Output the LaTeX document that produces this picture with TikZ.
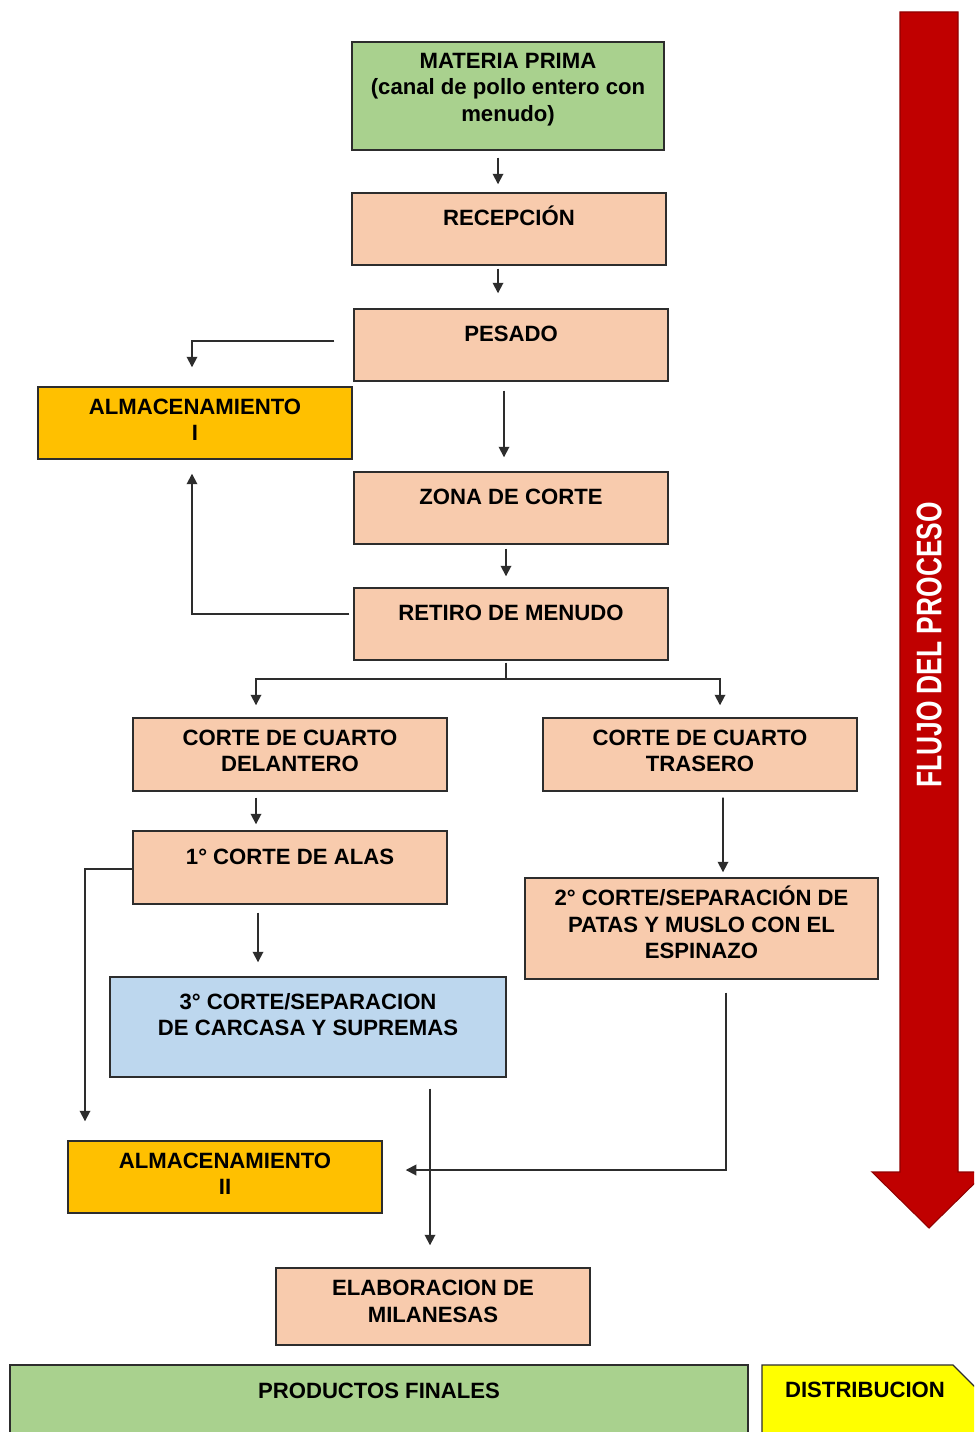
\documentclass[tikz,border=0pt]{standalone}
\usepackage{fontspec}
\setmainfont{Liberation Sans}
\usetikzlibrary{calc,positioning,arrows.meta}
\definecolor{mygreen}{RGB}{169,209,142}
\definecolor{mypeach}{RGB}{248,203,173}
\definecolor{mygold}{RGB}{255,192,0}
\definecolor{myblue}{RGB}{189,215,238}
\definecolor{myred}{RGB}{192,0,0}
\definecolor{myyellow}{RGB}{255,255,0}
\definecolor{myline}{RGB}{45,45,45}
\newcommand{\pxu}{0.02cm}
\tikzset{
  box/.style={draw=myline, line width=0.8pt, fill=mypeach, align=center, inner sep=0pt,
    font=\bfseries\fontsize{12.6}{15}\selectfont, minimum width=314*\pxu, minimum height=72*\pxu},
  oneline/.style={text height=9pt, text depth=12.5pt},
  twoline/.style={text depth=4pt},
  conn/.style={draw=myline, line width=1pt, -{Triangle[width=6pt,length=6pt]}},
  link/.style={draw=myline, line width=1pt},
}

\begin{document}
\begin{tikzpicture}[x=\pxu, y=-\pxu]
  \useasboundingbox (0,0) rectangle (974,1432);
  \clip (0,0) rectangle (974,1432);

  % Process boxes
  \node[box, fill=mygreen, minimum width=312*\pxu, minimum height=108*\pxu, text depth=10pt] (mat) at (508,96) {MATERIA PRIMA\\(canal de pollo entero con\\menudo)};
  \node[box, oneline] (rec) at (509,229) {RECEPCIÓN};
  \node[box, oneline] (pes) at (511,345) {PESADO};
  \node[box, twoline, fill=mygold] (almI) at (195,423) {ALMACENAMIENTO\\I};
  \node[box, oneline] (zon) at (511,508) {ZONA DE CORTE};
  \node[box, oneline] (ret) at (511,624) {RETIRO DE MENUDO};
  \node[box, twoline, minimum height=73*\pxu] (del) at (290,754.5) {CORTE DE CUARTO\\DELANTERO};
  \node[box, twoline, minimum height=73*\pxu] (tras) at (700,754.5) {CORTE DE CUARTO\\TRASERO};
  \node[box, oneline, minimum height=73*\pxu] (alas) at (290,867.5) {1° CORTE DE ALAS};
  \node[box, fill=myblue, minimum width=396*\pxu, minimum height=100*\pxu, text depth=14pt] (sep3) at (308,1027) {3° CORTE/SEPARACION\\DE CARCASA Y SUPREMAS};
  \node[box, minimum width=353*\pxu, minimum height=101*\pxu, text depth=7pt] (sep2) at (701.5,928.5) {2° CORTE/SEPARACIÓN DE\\PATAS Y MUSLO CON EL\\ESPINAZO};
  \node[box, twoline, fill=mygold] (almII) at (225,1177) {ALMACENAMIENTO\\II};
  \node[box, minimum height=77*\pxu, text depth=6pt] (elab) at (433,1306.5) {ELABORACION DE\\MILANESAS};
  \node[box, fill=mygreen, minimum width=738*\pxu, minimum height=100*\pxu, text height=9pt, text depth=28pt] (prod) at (379,1415) {PRODUCTOS FINALES};

  % Distribution tag
  \filldraw[fill=myyellow, draw=myline, line width=0.8pt] (762,1365) -- (953,1365) -- (1000,1412) -- (953,1460) -- (762,1460) -- cycle;
  \node[font=\bfseries\fontsize{12.6}{15}\selectfont] (dist) at (865,1390) {DISTRIBUCION};

  % Flow arrow
  \filldraw[fill=myred, draw=myred!75!black, line width=0.6pt] (900,12) -- (958,12) -- (958,1172) -- (986,1172) -- (929,1228) -- (872,1172) -- (900,1172) -- cycle;
  \node[rotate=90, text=white, font=\bfseries\fontsize{15}{18}\selectfont] (flujo) at (929,645) {\scalebox{1}[1.35]{FLUJO DEL PROCESO}};

  % Connectors
  \draw[conn] ($(mat.south)+(-10,7)$) -- ($(rec.north)+(-11,-8)$);
  \draw[conn] ($(rec.south)+(-11,3)$) -- ($(pes.north)+(-13,-15)$);
  \draw[conn] ($(pes.west)+(-19,-4)$) -| ($(almI.north)+(-3,-19)$);
  \draw[conn] ($(pes.south)+(-7,9)$) -- ($(zon.north)+(-7,-14)$);
  \draw[conn] ($(zon.south)+(-5,4)$) -- ($(ret.north)+(-5,-11)$);
  \draw[conn] ($(ret.west)+(-4,-10)$) -| ($(almI.south)+(-3,14)$);
  \draw[link] ($(ret.south)+(-5,2)$) -- ($(ret.south)+(-5,18)$) coordinate (split);
  \draw[conn] (split) -| ($(del.north)+(-34,-12)$);
  \draw[conn] (split) -| ($(tras.north)+(20,-12)$);
  \draw[conn] ($(del.south)+(-34,6)$) -- ($(alas.north)+(-34,-6)$);
  \draw[conn] ($(alas.west)+(0,1.5)$) -| ($(almII.north)+(-140,-19)$);
  \draw[conn] ($(alas.south)+(-32,8)$) -- ($(sep3.north)+(-50,-14)$);
  \draw[conn] ($(tras.south)+(23,6)$) -- ($(sep2.north)+(21.5,-5)$);
  \draw[conn] ($(sep2.south)+(24.5,13)$) |- ($(almII.east)+(23,-7)$);
  \draw[conn] ($(sep3.south)+(122,11)$) -- ($(elab.north)+(-3,-22)$);
\end{tikzpicture}
\end{document}
